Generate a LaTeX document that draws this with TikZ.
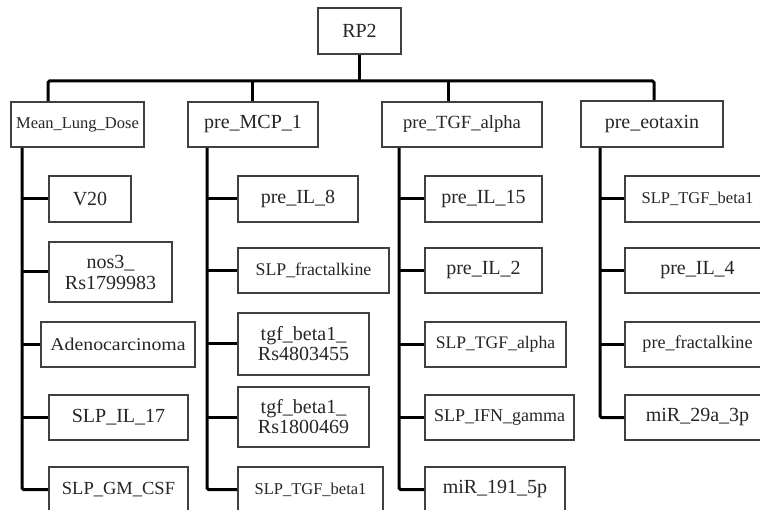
\documentclass[tikz,border=0pt]{standalone}
\usepackage{fontspec}
\setmainfont{Liberation Serif}
\newcommand\myfs[1]{\fontsize{#1}{#1}\selectfont}
\tikzset{
  bx/.style={draw=black!75, line width=1.6pt, inner sep=0pt, align=center, text=black!85, font=\myfs{20}},
  conn/.style={draw=black, line width=3pt, rounded corners=1.5pt},
}
\begin{document}
\begin{tikzpicture}[x=1pt,y=-1pt]
\useasboundingbox (0,0) rectangle (760,510);
\clip (0,0) rectangle (760,510);
\fill[white] (0,0) rectangle (760,510);
% root
\node[bx, minimum width=83pt, minimum height=46pt] (root) at (359.5,31) {RP2};
% level 1
\node[bx, minimum width=133pt, minimum height=45pt, font=\myfs{16.5}] (m1) at (77.5,124.5) {Mean\_Lung\_Dose};
\node[bx, minimum width=130pt, minimum height=45pt] (m2) at (253,124.5) {pre\_MCP\_1};
\node[bx, minimum width=160pt, minimum height=45pt, font=\myfs{18.6}] (m3) at (462,124.5) {pre\_TGF\_alpha};
\node[bx, minimum width=142pt, minimum height=46pt] (m4) at (652,124) {pre\_eotaxin};
% column 1
\node[bx, minimum width=82pt, minimum height=46pt] (a1) at (90,199) {V20};
\node[bx, minimum width=123pt, minimum height=60pt, font=\fontsize{20}{21}\selectfont] (a2) at (110.5,272) {nos3\_\\Rs1799983};
\node[bx, minimum width=154pt, minimum height=45pt, font=\myfs{18}] (a3) at (118,344.5) {\scalebox{1.1}[1]{Adenocarcinoma}};
\node[bx, minimum width=139pt, minimum height=45pt] (a4) at (118.5,417.5) {SLP\_IL\_17};
\node[bx, minimum width=139pt, minimum height=45pt, font=\myfs{18.5}] (a5) at (118.5,489.5) {SLP\_GM\_CSF};
% column 2
\node[bx, minimum width=120pt, minimum height=46pt] (b1) at (298,199) {pre\_IL\_8};
\node[bx, minimum width=151pt, minimum height=45pt, font=\myfs{17.8}] (b2) at (313.5,270.5) {SLP\_fractalkine};
\node[bx, minimum width=131pt, minimum height=62pt, font=\fontsize{20}{20}\selectfont] (b3) at (303.5,344) {tgf\_beta1\_\\Rs4803455};
\node[bx, minimum width=131pt, minimum height=60pt, font=\fontsize{20}{20}\selectfont] (b4) at (303.5,417) {tgf\_beta1\_\\Rs1800469};
\node[bx, minimum width=145pt, minimum height=45pt, font=\myfs{16.5}] (b5) at (310.5,489.5) {SLP\_TGF\_beta1};
% column 3
\node[bx, minimum width=117pt, minimum height=46pt] (c1) at (483.5,199) {pre\_IL\_15};
\node[bx, minimum width=117pt, minimum height=45pt] (c2) at (483.5,270.5) {pre\_IL\_2};
\node[bx, minimum width=141pt, minimum height=45pt, font=\myfs{17.6}] (c3) at (495.5,344.5) {SLP\_TGF\_alpha};
\node[bx, minimum width=149pt, minimum height=45pt, font=\myfs{18}] (c4) at (499.5,417.5) {SLP\_IFN\_gamma};
\node[bx, minimum width=140pt, minimum height=45pt] (c5) at (495,489.5) {miR\_191\_5p};
% column 4
\node[bx, minimum width=145pt, minimum height=46pt, font=\myfs{16.5}] (d1) at (697.5,199) {SLP\_TGF\_beta1};
\node[bx, minimum width=145pt, minimum height=45pt] (d2) at (697.5,270.5) {pre\_IL\_4};
\node[bx, minimum width=145pt, minimum height=45pt, font=\myfs{18.2}] (d3) at (697.5,344.5) {pre\_fractalkine};
\node[bx, minimum width=145pt, minimum height=45pt] (d4) at (697.5,417.5) {miR\_29a\_3p};
% bus coordinates
\coordinate (p1) at (48,81);
\coordinate (p2) at (252,81);
\coordinate (p3) at (448,81);
\coordinate (p4) at (654,81);
\coordinate (v1) at (22,0);
\coordinate (v2) at (207,0);
\coordinate (v3) at (399,0);
\coordinate (v4) at (600,0);
% top connectors
\draw[conn] (root.south) -- (root.south |- p1);
\draw[conn] (m1.north -| p1) -- (p1) -- (p4) -- (m4.north -| p4);
\draw[conn] (p2) -- (m2.north -| p2);
\draw[conn] (p3) -- (m3.north -| p3);
% column 1
\draw[conn] (m1.south -| v1) |- (a5.west);
\foreach \n in {a1,a2,a3,a4} \draw[conn] (v1 |- \n.west) -- (\n.west);
% column 2
\draw[conn] (m2.south -| v2) |- (b5.west);
\foreach \n in {b1,b2,b3,b4} \draw[conn] (v2 |- \n.west) -- (\n.west);
% column 3
\draw[conn] (m3.south -| v3) |- (c5.west);
\foreach \n in {c1,c2,c3,c4} \draw[conn] (v3 |- \n.west) -- (\n.west);
% column 4
\draw[conn] (m4.south -| v4) |- (d4.west);
\foreach \n in {d1,d2,d3} \draw[conn] (v4 |- \n.west) -- (\n.west);
\end{tikzpicture}
\end{document}
